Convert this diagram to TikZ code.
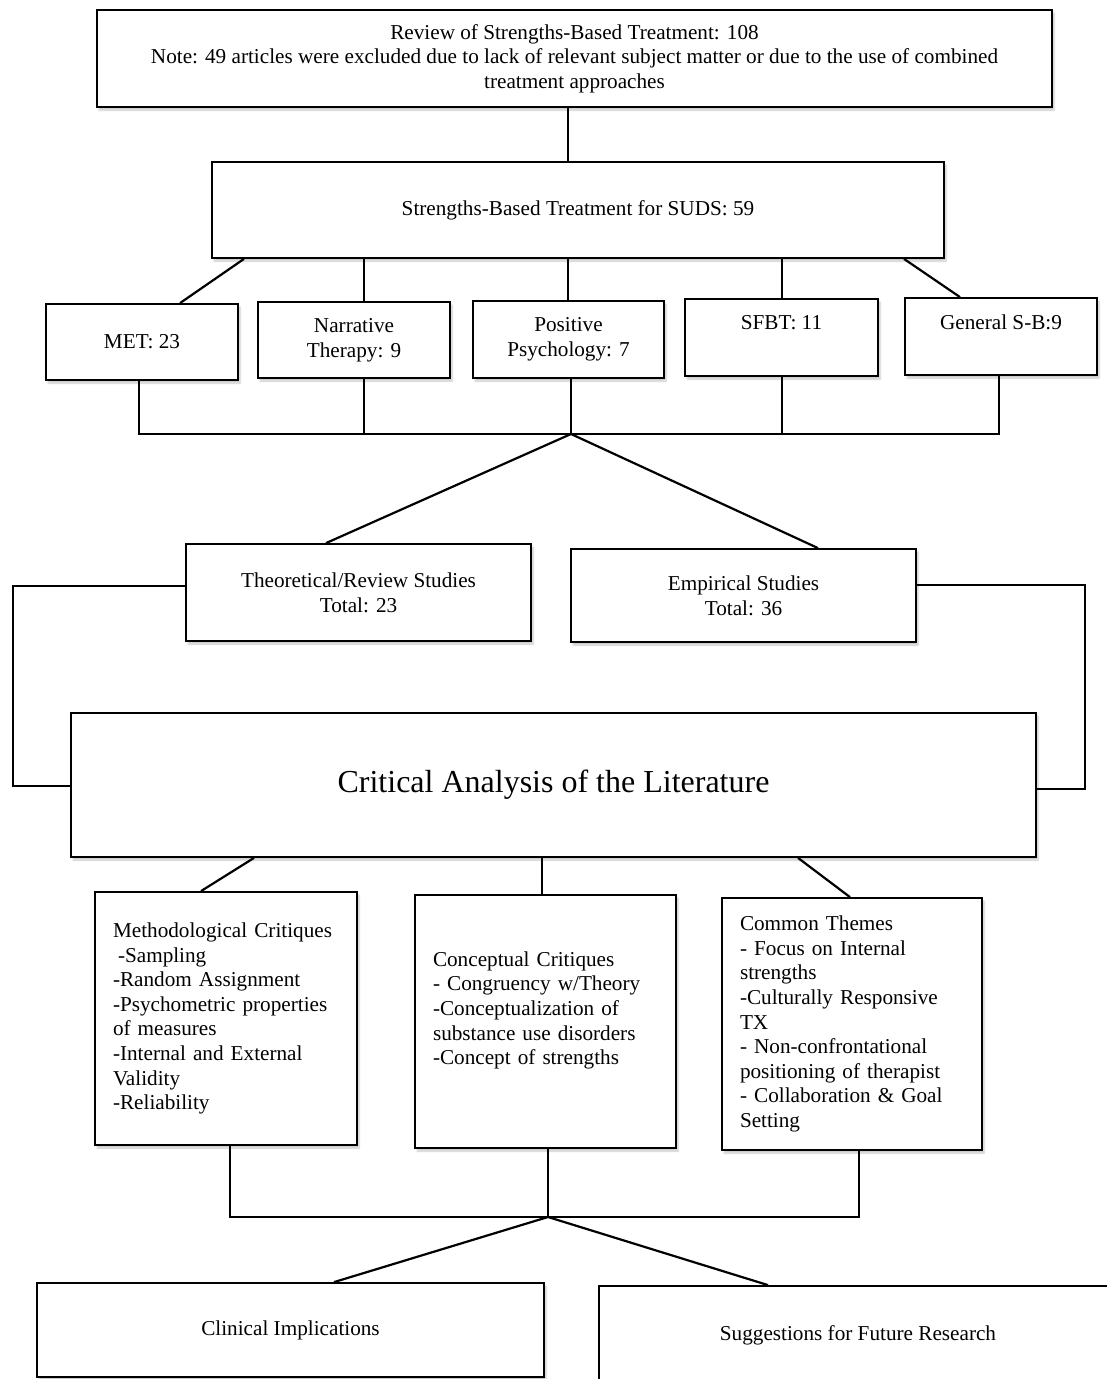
\documentclass[tikz,border=0pt]{standalone}
\usepackage{fontspec}
\setmainfont{Liberation Serif}
\usetikzlibrary{shadows.blur}
\begin{document}
\begin{tikzpicture}[x=1pt,y=-1pt,
  box/.style={draw, line width=1.8pt, fill=white, inner sep=0pt, align=center,
    font=\fontsize{21.2}{24.6}\selectfont,
    blur shadow={shadow xshift=2pt, shadow yshift=-3pt, shadow opacity=22, shadow blur steps=6}},
  listbox/.style={box, align=left, inner xsep=18pt},
  con/.style={line width=2.2pt}]
\useasboundingbox (0,0) rectangle (1107,1379);
\clip (0,0) rectangle (1107,1379);

% boxes
\node[box, minimum width=955, minimum height=97] (top) at (574.5,58.5)
  {Review of Strengths-Based Treatment: 108\\
   Note: 49 articles were excluded due to lack of relevant subject matter or due to the use of combined\\
   treatment approaches};
\node[box, minimum width=732, minimum height=96] (b2) at (578,210) {Strengths-Based Treatment for SUDS: 59};
\node[box, minimum width=192, minimum height=76] (met) at (142,342) {MET: 23};
\node[box, minimum width=192, minimum height=76] (nar) at (354,340) {Narrative\\Therapy: 9};
\node[box, minimum width=191, minimum height=77] (pos) at (568.5,339.5) {Positive\\Psychology: 7};
\node[box, minimum width=193, minimum height=77] (sfbt) at (781.5,337.5) {SFBT: 11\\[6pt]\mbox{}};
\node[box, minimum width=192, minimum height=77] (gen) at (1001,336.5) {General S-B:9\\[3.4pt]\mbox{}};

\node[box, minimum width=345, minimum height=97] (theo) at (358.5,592.5) {Theoretical/Review Studies\\Total: 23};
\node[box, minimum width=345, minimum height=93] (emp) at (743.5,595.5) {Empirical Studies\\Total: 36};

\node[box, minimum width=965, minimum height=144, font=\fontsize{32}{38}\selectfont] (crit) at (553.5,785)
  {Critical Analysis of the Literature};

\node[listbox, minimum width=262, text width=226, minimum height=253] (meth) at (226,1018.5)
  {Methodological Critiques\\
   \hspace*{5pt}-Sampling\\
   -Random Assignment\\
   -Psychometric properties\\
   of measures\\
   -Internal and External\\
   Validity\\
   -Reliability};
\node[listbox, minimum width=261, text width=225, minimum height=253] (conc) at (545.5,1021.5)
  {Conceptual Critiques\\
   - Congruency w/Theory\\
   -Conceptualization of\\
   substance use disorders\\
   -Concept of strengths\\[2pt]\mbox{}};
\node[listbox, minimum width=260, text width=224, minimum height=252] (com) at (852,1024)
  {Common Themes\\
   - Focus on Internal\\
   strengths\\
   -Culturally Responsive\\
   TX\\
   - Non-confrontational\\
   positioning of therapist\\
   - Collaboration \& Goal\\
   Setting};

\node[box, minimum width=507, minimum height=94] (clin) at (290.5,1330) {Clinical Implications};
\node[box, minimum width=518, minimum height=98] (sug) at (858,1335) {Suggestions for Future Research};

% junction coordinates
\coordinate (bl) at (139,434);
\coordinate (bn) at (364,434);
\coordinate (j1) at (571,434);
\coordinate (bs) at (782,434);
\coordinate (br) at (999,434);
\coordinate (L1) at (13,586);
\coordinate (L2) at (13,786);
\coordinate (R1) at (1085,585);
\coordinate (R2) at (1085,789);
\coordinate (ml) at (230,1217);
\coordinate (j2) at (548,1217);
\coordinate (mr) at (859,1217);

% connectors
\draw[con] (top.south -| 568,0) -- (b2.north -| 568,0);
\draw[con] (b2.south -| 244,0) -- (met.north -| 180,0);
\draw[con] (b2.south -| 364,0) -- (nar.north -| 364,0);
\draw[con] (b2.south -| 568,0) -- (pos.north -| 568,0);
\draw[con] (b2.south -| 782,0) -- (sfbt.north -| 782,0);
\draw[con] (b2.south -| 904,0) -- (gen.north -| 960,0);

\draw[con] (met.south -| bl) -- (bl) -- (br) -- (gen.south -| br);
\draw[con] (nar.south -| bn) -- (bn);
\draw[con] (pos.south -| j1) -- (j1);
\draw[con] (sfbt.south -| bs) -- (bs);

\draw[con] (j1) -- (theo.north -| 326,0);
\draw[con] (j1) -- (emp.north -| 818,0);

\draw[con] (theo.west |- L1) -- (L1) -- (L2) -- (crit.west |- L2);
\draw[con] (emp.east |- R1) -- (R1) -- (R2) -- (crit.east |- R2);

\draw[con] (crit.south -| 254,0) -- (meth.north -| 201,0);
\draw[con] (crit.south -| 542,0) -- (conc.north -| 542,0);
\draw[con] (crit.south -| 798,0) -- (com.north -| 850,0);

\draw[con] (meth.south -| ml) -- (ml) -- (mr) -- (com.south -| mr);
\draw[con] (conc.south -| j2) -- (j2);
\draw[con] (j2) -- (clin.north -| 334,0);
\draw[con] (j2) -- (sug.north -| 768,0);
\end{tikzpicture}
\end{document}
